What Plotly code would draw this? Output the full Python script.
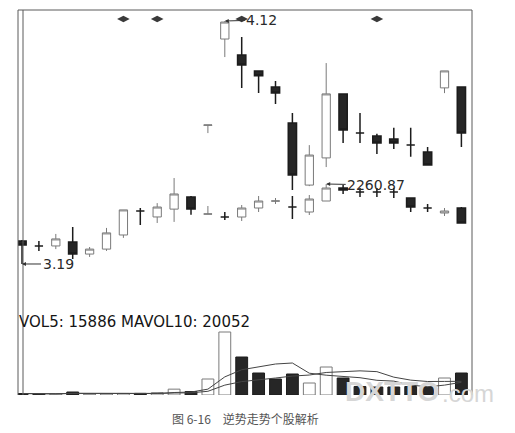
import plotly.graph_objects as go
import pandas as pd

# ---------------- data ----------------
days = list(range(27))
stock_open = [3.278, 3.259, 3.259, 3.274, 3.228, 3.247, 3.301, 3.393, 3.370, 3.400, 3.446,
              3.721, 4.051, 3.990, 3.929, 3.867, 3.730, 3.492, 3.596, 3.841, 3.691, 3.680,
              3.668, 3.645, 3.619, 3.864, 3.867]
stock_high = [3.282, 3.278, 3.305, 3.332, 3.255, 3.328, 3.397, 3.404, 3.423, 3.519, 3.450,
              3.722, 4.120, 4.059, 3.929, 3.890, 3.768, 3.645, 3.959, 3.841, 3.768, 3.688,
              3.711, 3.711, 3.638, 3.929, 3.867]
stock_low = [3.190, 3.240, 3.247, 3.209, 3.217, 3.240, 3.290, 3.339, 3.347, 3.351, 3.378,
             3.691, 3.982, 3.864, 3.844, 3.802, 3.473, 3.488, 3.561, 3.653, 3.653, 3.611,
             3.630, 3.600, 3.569, 3.844, 3.638]
stock_close = [3.263, 3.259, 3.286, 3.228, 3.247, 3.309, 3.397, 3.393, 3.408, 3.458, 3.400,
               3.722, 4.116, 3.952, 3.910, 3.844, 3.531, 3.607, 3.841, 3.703, 3.691, 3.653,
               3.653, 3.645, 3.569, 3.929, 3.691]

index_days = list(range(11, 27))
index_open = [2194.87, 2188.27, 2188.27, 2208.07, 2223.47, 2210.27, 2199.27, 2223.47,
              2252.07, 2243.27, 2243.27, 2243.27, 2230.07, 2208.07, 2197.07, 2208.07]
index_high = [2212.47, 2199.27, 2214.67, 2234.47, 2230.07, 2234.47, 2236.67, 2260.87,
              2258.67, 2252.07, 2252.07, 2252.07, 2230.07, 2216.87, 2208.07, 2210.27]
index_low = [2194.87, 2181.67, 2179.47, 2199.27, 2216.87, 2183.87, 2192.67, 2223.47,
             2238.87, 2232.27, 2232.27, 2230.07, 2199.27, 2199.27, 2190.47, 2175.07]
index_close = [2194.87, 2188.27, 2208.07, 2223.47, 2223.47, 2210.27, 2227.87, 2252.07,
               2247.67, 2243.27, 2243.27, 2243.27, 2210.27, 2208.07, 2201.47, 2175.07]

volume = [1900, 1300, 1400, 3900, 1200, 1500, 2000, 2100, 3000, 7600, 4500,
          20800, 81900, 49400, 28600, 20800, 27300, 15600, 36400, 22100, 11000,
          10400, 10400, 11000, 10400, 22100, 28600]

marker_days = [6, 8, 13, 21]

stock_high_label = "4.12"
stock_low_label = "3.19"
index_high_label = "2260.87"
vol_label = "VOL5: 15886 MAVOL10: 20052"
caption = "图 6-16　逆势走势个股解析"
watermark_main = "DXTTO"
watermark_tail = ".com"

# ---------------- layout geometry (pixels) ----------------
W, H = 515, 433
X0, X1 = 18, 472           # frame left / right
Y_TOP, Y_MAIN_BOT = 10, 310
Y_VOL_TOP, Y_VOL_BOT = 325, 395
X_RANGE = [-0.2367, 26.627]
STOCK_RANGE = [3.0139, 4.1621]
INDEX_RANGE = [1983.67, 2643.67]
VOL_RANGE = [0, 91000]


def px_x(p):
    return p / W


def px_y(p):
    return 1 - p / H


up_line = "#7a7a7a"
dn_line = "#1c1c1c"
dn_fill = "#262626"

fig = go.Figure()

fig.add_trace(go.Candlestick(
    x=days, open=stock_open, high=stock_high, low=stock_low, close=stock_close,
    increasing=dict(line=dict(color=up_line, width=1), fillcolor="white"),
    decreasing=dict(line=dict(color=dn_line, width=1.5), fillcolor=dn_fill),
    whiskerwidth=0, xaxis="x", yaxis="y", hoverinfo="skip"))

fig.add_trace(go.Candlestick(
    x=index_days, open=index_open, high=index_high, low=index_low, close=index_close,
    increasing=dict(line=dict(color=up_line, width=1), fillcolor="white"),
    decreasing=dict(line=dict(color=dn_line, width=1.5), fillcolor=dn_fill),
    whiskerwidth=0, xaxis="x", yaxis="y2", hoverinfo="skip"))

# info markers at the top
marker_y = STOCK_RANGE[1] - 0.03 * (STOCK_RANGE[1] - STOCK_RANGE[0])
fig.add_trace(go.Scatter(
    x=marker_days, y=[marker_y] * len(marker_days), mode="markers",
    marker=dict(symbol="diamond-wide", size=9, color="#3a3a3a"),
    xaxis="x", yaxis="y", hoverinfo="skip"))

# volume bars
up_flags = [c > o for o, c in zip(stock_open, stock_close)]
bar_fill = ["white" if u else dn_fill for u in up_flags]
bar_line = [up_line if u else dn_line for u in up_flags]
fig.add_trace(go.Bar(
    x=days, y=volume, width=0.7,
    marker=dict(color=bar_fill, line=dict(color=bar_line, width=1)),
    xaxis="x2", yaxis="y3", hoverinfo="skip"))

vol_s = pd.Series(volume)
ma5 = vol_s.rolling(5, min_periods=1).mean()
ma10 = vol_s.rolling(10, min_periods=1).mean()
for ma in (ma5, ma10):
    fig.add_trace(go.Scatter(x=days, y=ma, mode="lines",
                             line=dict(color="#444444", width=1),
                             xaxis="x2", yaxis="y3", hoverinfo="skip"))

label_font = dict(family="DejaVu Sans", size=14, color="#2a2a2a")
arrow_kw = dict(showarrow=True, arrowhead=2, arrowsize=0.8, arrowwidth=1,
                arrowcolor="#333333", standoff=0, font=label_font)

ann = [
    dict(x=12, y=max(stock_high), xref="x", yref="y", text=stock_high_label,
         ax=37, ay=-1, **arrow_kw),
    dict(x=0, y=min(stock_low), xref="x", yref="y", text=stock_low_label,
         ax=36, ay=0, **arrow_kw),
    dict(x=index_days[index_high.index(max(index_high))], y=max(index_high),
         xref="x", yref="y2", text=index_high_label, ax=50, ay=1, **arrow_kw),
    dict(x=px_x(17), y=px_y(322), xref="paper", yref="paper", text=vol_label,
         showarrow=False, xanchor="left", yanchor="middle",
         font=dict(family="DejaVu Sans", size=15, color="#151515")),
    dict(x=px_x(245), y=px_y(418), xref="paper", yref="paper", text=caption,
         showarrow=False, xanchor="center", yanchor="middle",
         font=dict(family="Noto Sans CJK SC", size=12, color="#555555")),
    dict(x=px_x(343), y=px_y(391), xref="paper", yref="paper", text="<b>" + watermark_main + "</b>",
         showarrow=False, xanchor="left", yanchor="middle",
         font=dict(family="Liberation Sans", size=28, color="#d6d6d6")),
    dict(x=px_x(440), y=px_y(393), xref="paper", yref="paper", text=watermark_tail,
         showarrow=False, xanchor="left", yanchor="middle",
         font=dict(family="Liberation Sans", size=24, color="#d6d6d6")),
]

frame_color = "#5a5a5a"
shapes = [
    dict(type="line", xref="paper", yref="paper", x0=px_x(X0), x1=px_x(X1),
         y0=px_y(Y_TOP), y1=px_y(Y_TOP), line=dict(color=frame_color, width=1)),
    dict(type="line", xref="paper", yref="paper", x0=px_x(X0), x1=px_x(X0),
         y0=px_y(Y_TOP), y1=px_y(Y_VOL_BOT), line=dict(color=frame_color, width=1)),
    dict(type="line", xref="paper", yref="paper", x0=px_x(X0 + 5), x1=px_x(X0 + 5),
         y0=px_y(Y_TOP), y1=px_y(Y_VOL_BOT), line=dict(color=frame_color, width=1)),
    dict(type="line", xref="paper", yref="paper", x0=px_x(X1), x1=px_x(X1),
         y0=px_y(Y_TOP), y1=px_y(Y_VOL_BOT), line=dict(color=frame_color, width=1)),
]

main_domain = [px_y(Y_MAIN_BOT), px_y(Y_TOP)]
vol_domain = [px_y(Y_VOL_BOT), px_y(Y_VOL_TOP)]
x_domain = [px_x(X0), px_x(X1)]

fig.update_layout(
    width=W, height=H, autosize=False, margin=dict(l=0, r=0, t=0, b=0),
    paper_bgcolor="white", plot_bgcolor="rgba(0,0,0,0)", showlegend=False,
    hovermode=False,
    xaxis=dict(domain=x_domain, range=X_RANGE, visible=False, anchor="y",
               rangeslider=dict(visible=False), fixedrange=True),
    xaxis2=dict(domain=x_domain, range=X_RANGE, visible=False, anchor="y3",
                fixedrange=True),
    yaxis=dict(domain=main_domain, range=STOCK_RANGE, visible=False, anchor="x",
               fixedrange=True),
    yaxis2=dict(range=INDEX_RANGE, visible=False, overlaying="y", anchor="x",
                fixedrange=True),
    yaxis3=dict(domain=vol_domain, range=VOL_RANGE, visible=False, anchor="x2",
                fixedrange=True),
    annotations=ann, shapes=shapes,
)

fig.write_html(
    "out.html",
    config={"displayModeBar": False, "staticPlot": True},
    post_script="document.body.style.margin='0px';document.body.style.padding='0px';",
)
